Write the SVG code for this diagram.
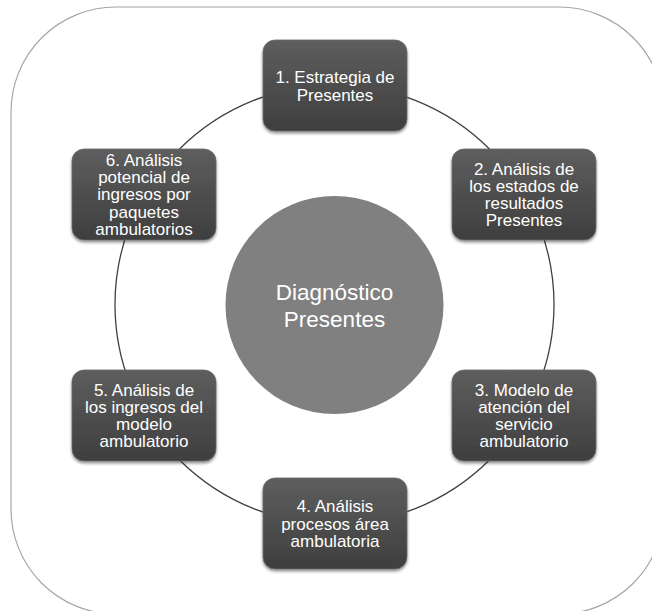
<svg xmlns="http://www.w3.org/2000/svg" width="652" height="611" viewBox="0 0 652 611">
  <defs>
    <linearGradient id="boxFill" x1="0" y1="0" x2="0" y2="1">
      <stop offset="0" stop-color="#5e5e5e"/>
      <stop offset="1" stop-color="#3e3e3e"/>
    </linearGradient>
    <filter id="shadow" x="-10%" y="-10%" width="120%" height="130%">
      <feGaussianBlur in="SourceAlpha" stdDeviation="1.6"/>
      <feOffset dx="0" dy="2" result="b"/>
      <feComponentTransfer><feFuncA type="linear" slope="0.45"/></feComponentTransfer>
      <feMerge><feMergeNode/><feMergeNode in="SourceGraphic"/></feMerge>
    </filter>
  </defs>
  <style>
    .frame { fill: #ffffff; stroke: #a6a6a6; stroke-width: 1.2; }
    .ring { fill: none; stroke: #404040; stroke-width: 1.3; }
    .box { fill: url(#boxFill); stroke: #6a6a6a; stroke-width: 0.8; filter: url(#shadow); }
    .label { font-family: "Liberation Sans", Arial, sans-serif; font-size: 17px; fill: #ffffff; text-anchor: middle; }
    .hub { fill: #808080; }
    .hubText { font-family: "Liberation Sans", Arial, sans-serif; font-size: 22.5px; fill: #ffffff; text-anchor: middle; }
  </style>

  <rect width="652" height="611" fill="#ffffff"/>
  <!-- outer rounded frame, running past the right and bottom edges -->
  <rect class="frame" x="11" y="7" width="653" height="607" rx="105" ry="105"/>

  <!-- cycle ring joining the six steps -->
  <g id="connectors">
    <circle class="ring" cx="334.5" cy="304.5" r="219.5"/>
  </g>

  <g id="hub">
    <circle class="hub" cx="334.5" cy="305" r="109"/>
    <text class="hubText" x="334.5" y="300">Diagnóstico</text>
    <text class="hubText" x="334.5" y="327">Presentes</text>
  </g>

  <g id="step1">
    <rect class="box" x="263" y="40" width="144" height="91" rx="12"/>
    <text class="label" x="335" y="83">1. Estrategia de</text>
    <text class="label" x="335" y="100.5">Presentes</text>
  </g>

  <g id="step2">
    <rect class="box" x="452" y="149" width="144" height="91" rx="12"/>
    <text class="label" x="524" y="174.5">2. Análisis de</text>
    <text class="label" x="524" y="191.8">los estados de</text>
    <text class="label" x="524" y="209.1">resultados</text>
    <text class="label" x="524" y="226.4">Presentes</text>
  </g>

  <g id="step3">
    <rect class="box" x="452" y="370" width="144" height="91" rx="12"/>
    <text class="label" x="524" y="395.5">3. Modelo de</text>
    <text class="label" x="524" y="412.8">atención del</text>
    <text class="label" x="524" y="430.1">servicio</text>
    <text class="label" x="524" y="447.4">ambulatorio</text>
  </g>

  <g id="step4">
    <rect class="box" x="263" y="478" width="144" height="91" rx="12"/>
    <text class="label" x="335" y="512.2">4. Análisis</text>
    <text class="label" x="335" y="529.5">procesos área</text>
    <text class="label" x="335" y="546.8">ambulatoria</text>
  </g>

  <g id="step5">
    <rect class="box" x="72" y="370" width="144" height="91" rx="12"/>
    <text class="label" x="144" y="395.5">5. Análisis de</text>
    <text class="label" x="144" y="412.8">los ingresos del</text>
    <text class="label" x="144" y="430.1">modelo</text>
    <text class="label" x="144" y="447.4">ambulatorio</text>
  </g>

  <g id="step6">
    <rect class="box" x="72" y="149" width="144" height="91" rx="12"/>
    <text class="label" x="144" y="165.8">6. Análisis</text>
    <text class="label" x="144" y="183.1">potencial de</text>
    <text class="label" x="144" y="200.4">ingresos por</text>
    <text class="label" x="144" y="217.7">paquetes</text>
    <text class="label" x="144" y="235">ambulatorios</text>
  </g>
</svg>
